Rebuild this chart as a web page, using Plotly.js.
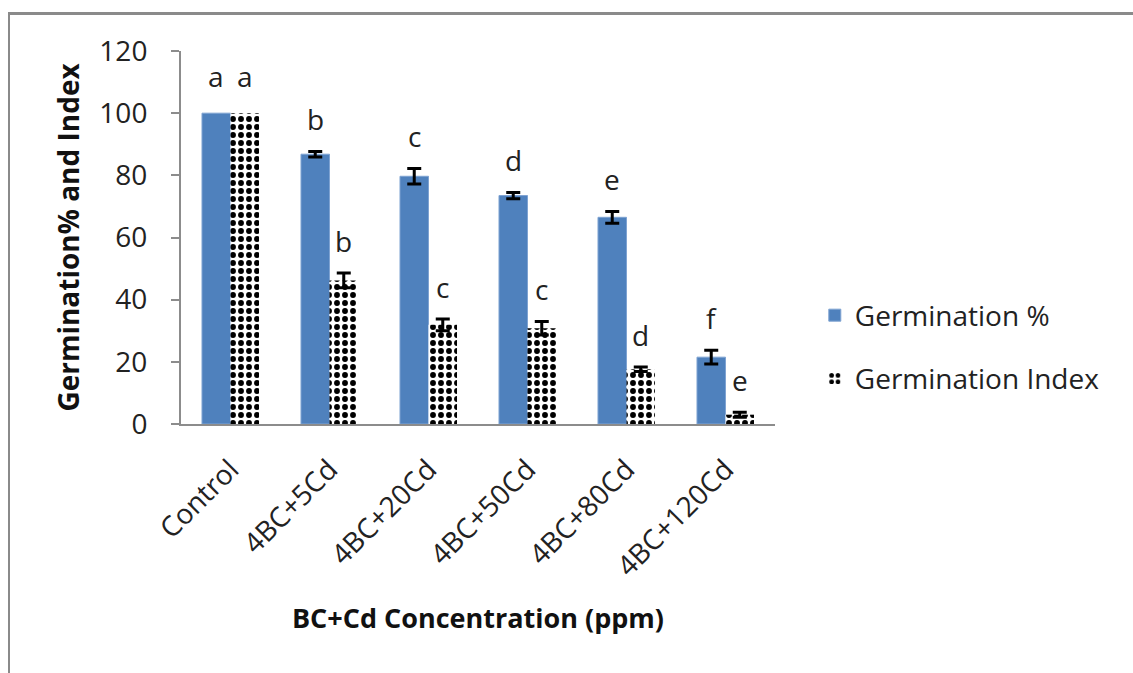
<!DOCTYPE html>
<html>
<head>
<meta charset="utf-8">
<script src="https://cdn.plot.ly/plotly-3.0.1.min.js"></script>
<style>
  html, body { margin: 0; padding: 0; background: #fff; }
  #frame { position: absolute; left: 8px; top: 12px; width: 1140px; height: 700px;
           border-left: 2px solid #8a8a8a; border-top: 3px solid #8a8a8a; box-sizing: border-box; }
  #chart { position: absolute; left: 0; top: 0; width: 1133px; height: 673px; }
</style>
</head>
<body>
<div id="frame"></div>
<div id="chart"></div>
<script>
const categories = ['Control', '4BC+5Cd', '4BC+20Cd', '4BC+50Cd', '4BC+80Cd', '4BC+120Cd'];
const germPct = [100, 86.8, 79.7, 73.5, 66.5, 21.5];
const germPctErr = [0, 0.9, 2.5, 1.0, 1.9, 2.2];
const germIdx = [100, 46.2, 31.9, 30.8, 17.6, 3.0];
const germIdxErr = [0, 2.4, 1.9, 2.2, 0.7, 0.8];
const germPctLetters = ['a', 'b', 'c', 'd', 'e', 'f'];
const germIdxLetters = ['a', 'b', 'c', 'c', 'd', 'e'];
const yTicks = [0, 20, 40, 60, 80, 100, 120];

const FONT = 'Open Sans, Noto Sans, sans-serif';
const BARGAP = 0.424;
const half = (1 - BARGAP) / 4;
const noZero = arr => arr.map(v => (v > 0 ? v : NaN));

const traces = [
  {
    type: 'bar', name: 'Germination %', x: categories, y: germPct,
    legendgroup: 'g1',
    marker: { color: '#4F81BD', line: { color: '#7fa3d2', width: 1 } },
    error_y: { type: 'data', array: noZero(germPctErr), visible: true, color: '#000', thickness: 3, width: 7 }
  },
  {
    type: 'bar', name: 'Germination Index', x: categories, y: germIdx,
    legendgroup: 'g2',
    marker: { color: '#ffffff', line: { width: 0 },
              pattern: { shape: '.', fgcolor: '#000000', bgcolor: '#ffffff', size: 8, solidity: 0.42 } },
    error_y: { type: 'data', array: noZero(germIdxErr), visible: true, color: '#000', thickness: 3, width: 7 }
  }
];

const annotations = [];
categories.forEach((c, i) => {
  annotations.push({
    x: i - half, y: germPct[i] + germPctErr[i], xref: 'x', yref: 'y',
    text: germPctLetters[i], showarrow: false, yanchor: 'bottom',
    yshift: germPctErr[i] > 0 ? 11 : 16,
    font: { family: FONT, size: 28, color: '#222' }
  });
  annotations.push({
    x: i + half, y: germIdx[i] + germIdxErr[i], xref: 'x', yref: 'y',
    text: germIdxLetters[i], showarrow: false, yanchor: 'bottom',
    yshift: germIdxErr[i] > 0 ? 11 : 16,
    font: { family: FONT, size: 28, color: '#222' }
  });
});

const layout = {
  width: 1133, height: 673,
  paper_bgcolor: 'rgba(0,0,0,0)', plot_bgcolor: 'rgba(0,0,0,0)',
  margin: { l: 181, r: 358, t: 51, b: 249 },
  barmode: 'group', bargap: BARGAP, bargroupgap: 0,
  font: { family: FONT, color: '#222' },
  showlegend: true,
  legend: {
    x: 1.067, y: 0.358, xanchor: 'left', yanchor: 'top',
    font: { family: FONT, size: 28, color: '#222' },
    traceorder: 'grouped', tracegroupgap: 24, bgcolor: 'rgba(0,0,0,0)'
  },
  xaxis: {
    type: 'category', showgrid: false, zeroline: false,
    showline: true, linecolor: '#8c8c8c', linewidth: 2,
    ticks: '', tickangle: -45, ticklabelstandoff: 16,
    tickfont: { family: FONT, size: 28, color: '#222' },
    title: { text: 'BC+Cd Concentration (ppm)', font: { family: FONT, size: 27, color: '#111', weight: 'bold' }, standoff: 26 },
    automargin: false
  },
  yaxis: {
    range: [0, 120], tickvals: yTicks, showgrid: false, zeroline: false,
    showline: true, linecolor: '#8c8c8c', linewidth: 2,
    ticks: 'outside', ticklen: 8, tickcolor: '#8c8c8c', tickwidth: 2,
    ticklabelstandoff: 18,
    tickfont: { family: FONT, size: 28, color: '#222' },
    title: { text: 'Germination% and Index', font: { family: FONT, size: 28, color: '#111', weight: 'bold' }, standoff: 12 },
    automargin: false
  },
  annotations: annotations
};

Plotly.newPlot('chart', traces, layout, { displayModeBar: false, staticPlot: true });
</script>
</body>
</html>
